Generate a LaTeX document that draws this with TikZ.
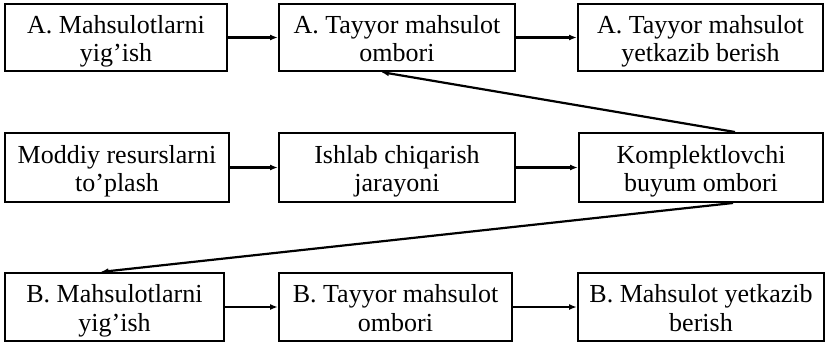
\documentclass[tikz,border=0pt]{standalone}
\usepackage{fontspec}
\setmainfont{Liberation Serif}
\usetikzlibrary{arrows.meta}
\newcommand\boxtext[2]{#1\rule{0pt}{26pt}\\#2\rule[-6pt]{0pt}{6pt}}
\begin{document}
\begin{tikzpicture}[x=1pt,y=-1pt,
  stage/.style={draw,line width=2pt,inner sep=0pt,align=center,
    font=\fontsize{26}{28.5}\selectfont},
  arr/.style={line width=2.2pt,-{Latex[length=8pt,width=6pt]}}]
\useasboundingbox (0,0) rectangle (827,343);
% row 1
\node[stage,minimum width=222pt,minimum height=67pt] (a1) at (116,37.5) {\boxtext{A. Mahsulotlarni}{yig’ish}};
\node[stage,minimum width=236pt,minimum height=67pt] (a2) at (397,37.5) {\boxtext{A. Tayyor mahsulot}{ombori}};
\node[stage,minimum width=245pt,minimum height=67pt] (a3) at (700.5,37.5) {\boxtext{A. Tayyor mahsulot}{yetkazib berish}};
% row 2
\node[stage,minimum width=224pt,minimum height=69pt] (m1) at (117,167.5) {\boxtext{Moddiy resurslarni}{to’plash}};
\node[stage,minimum width=236pt,minimum height=69pt] (m2) at (397,167.5) {\boxtext{Ishlab chiqarish}{jarayoni}};
\node[stage,minimum width=244pt,minimum height=69pt] (m3) at (701,167.5) {\boxtext{Komplektlovchi}{buyum ombori}};
% row 3
\node[stage,minimum width=219pt,minimum height=68pt] (b1) at (114.5,307) {\boxtext{B. Mahsulotlarni}{yig’ish}};
\node[stage,minimum width=233pt,minimum height=68pt] (b2) at (395.5,307) {\boxtext{B. Tayyor mahsulot}{ombori}};
\node[stage,minimum width=246pt,minimum height=68pt] (b3) at (701,307) {\boxtext{B. Mahsulot yetkazib}{berish}};
% connectors
\draw[arr] (a1) -- (a2);
\draw[arr] (a2) -- (a3);
\draw[arr] (m1) -- (m2);
\draw[arr] (m2) -- (m3);
\draw[arr] (b1) -- (b2);
\draw[arr] (b2) -- (b3);
\draw[arr] ([xshift=34pt]m3.north) -- ([xshift=-16pt]a2.south);
\draw[arr] ([xshift=32pt]m3.south) -- ([xshift=-14pt]b1.north);
\end{tikzpicture}
\end{document}
